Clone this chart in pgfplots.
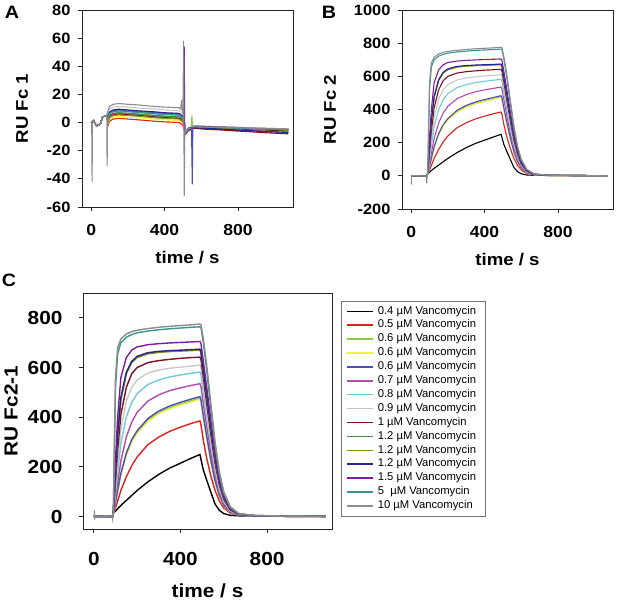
\documentclass[border=0pt]{standalone}
\usepackage{fontspec}
\setmainfont{Liberation Sans}[BoldFeatures={FakeStretch=1.1}]
\usepackage{pgfplots}
\usepackage{pgfplotstable}
\pgfplotsset{compat=1.18}

\definecolor{col1}{HTML}{000000}
\definecolor{col2}{HTML}{E0201A}
\definecolor{col3}{HTML}{8CC63F}
\definecolor{col4}{HTML}{F0F040}
\definecolor{col5}{HTML}{4A50B8}
\definecolor{col6}{HTML}{B04CB0}
\definecolor{col7}{HTML}{70C8DC}
\definecolor{col8}{HTML}{C8C8C8}
\definecolor{col9}{HTML}{7A1020}
\definecolor{col10}{HTML}{3E8E3E}
\definecolor{col11}{HTML}{8C8C1E}
\definecolor{col12}{HTML}{24248C}
\definecolor{col13}{HTML}{7A1E9E}
\definecolor{col14}{HTML}{3A9494}
\definecolor{col15}{HTML}{8C8C8C}

% Panel A (Fc1 reference)
\pgfplotstableread{
t c1 c2 c3 c4 c5 c6 c7 c8 c9 c10 c11 c12 c13 c14 c15
0 0 0 0 0 0 0 0 0 0 0 0 0 0 0 0
12 1.5 1.5 1.5 1.5 1.5 1.5 1.5 1.5 1.5 1.5 1.5 1.5 1.5 1.5 1.5
30 -2.5 -2.5 -2.5 -2.5 -2.5 -2.5 -2.5 -2.5 -2.5 -2.5 -2.5 -2.5 -2.5 -2.5 -2.5
50 -1 -1 -1 -1 -1 -1 -1 -1 -1 -1 -1 -1 -1 -1 -1
62 4 4 4 4 4 4 4 4 4 4 4 4 4 4 4
84 5 5 5 5 5 5 5 5 5 5 5 5 5 5 5
92 1 -2 1.5 -0.5 4 2 3 6.5 1 2 0.5 4.5 3.5 3.5 8.5
100 4 1 4.5 2.5 7 5 6 9.5 4 5 3.5 7.5 6.5 6.5 11.5
120 5.5 2.5 6 4 8.5 6.5 7.5 11 5.5 6.5 5 9 8 8 13
150 6 3 6.5 4.5 9 7 8 11.5 6 7 5.5 9.5 8.5 8.5 13.5
200 5.5 2.5 6 4 8.5 6.5 7.5 11 5.5 6.5 5 9 8 8 13
250 5.2 2 5.6 3.4 8.2 6 7.1 10.4 5 6.1 4.6 8.4 7.6 7.4 12.6
300 4.5 1.5 5 3 7.5 5.5 6.5 10 4.5 5.5 4 8 7 7 12
350 4.1 0.9 4.6 2.4 7.1 4.9 6.1 9.6 3.9 5.1 3.4 7.6 6.4 6.6 11.4
400 3.5 0.5 4 2 6.5 4.5 5.5 9 3.5 4.5 3 7 6 6 11
440 3.3 0.3 3.7 1.8 6.3 4.2 5.2 8.8 3.2 4.2 2.8 6.8 5.8 5.7 10.8
480 3 0 3.5 1.5 6 4 5 8.5 3 4 2.5 6.5 5.5 5.5 10.5
500 1 -2 1.5 -0.5 4 2 3 6.5 1 2 0.5 4.5 3.5 3.5 8.5
515 -7 -8 -7 -7 -6 -7 -7 -6 -8 -7 -7 -7.5 -6.5 -7 -7
530 -4.5 -5.5 -4.5 -4.5 -4 -4.5 -4.5 -4 -5.5 -4.5 -4.5 -5 -4 -4.5 -4.5
560 -3 -4 -3 -3 -2.5 -3 -3 -2.5 -4 -3 -3 -3.5 -2.5 -3 -3
630 -3.6 -4.4 -3.2 -3.4 -2.7 -3.3 -3.2 -2.8 -4.8 -3.3 -3.5 -4.1 -2.9 -3.3 -3.3
700 -3.9 -4.9 -3.6 -3.6 -3.1 -3.6 -3.6 -3.1 -5.2 -3.6 -3.75 -4.55 -3.25 -3.6 -3.45
780 -4.2 -5.4 -3.8 -4 -3.3 -3.9 -3.8 -3.4 -5.9 -3.9 -4.2 -5.1 -3.5 -3.9 -3.6
850 -4.8 -5.8 -4.2 -4.2 -3.7 -4.2 -4.2 -3.7 -6.4 -4.2 -4.5 -5.6 -4 -4.2 -3.9
960 -5.3 -6.5 -4.6 -4.7 -4.1 -4.7 -4.6 -4.2 -7.3 -4.6 -5 -6.4 -4.6 -4.6 -4.3
1075 -6 -7 -5 -5 -4.5 -5 -5 -4.5 -8 -5 -5.5 -7 -5 -5 -4.5
}\tabA

% Panels B and C (Fc2 and Fc2-1)
\pgfplotstableread{
t c1 c2 c3 c4 c5 c6 c7 c8 c9 c10 c11 c12 c13 c14 c15
0 0 0 0 0 0 0 0 0 0 0 0 0 0 0 0
30 1 1 1 1 1 1 1 1 1 1 1 1 1 1 1
60 0 0 0 0 0 0 0 0 0 0 0 0 0 0 0
86 0 0 0 0 0 0 0 0 0 0 0 0 0 0 0
90 15 15 15 15 15 15 15 15 15 15 15 15 15 15 15
95 17 22 29 28 30 35 45 55 70 88 85 90 110 270 300
100 22 35 53 52 55 70 90 110 140 175 170 180 230 520 560
110 32 62 102 100 105 135 180 220 270 325 320 330 400 655 680
125 45 105 170 167 175 225 295 350 410 475 470 480 560 700 715
150 65 160 250 246 255 320 400 465 520 578 575 580 640 722 735
175 85 205 304 300 310 380 460 520 575 622 620 625 670 733 745
200 105 240 340 336 345 420 495 550 600 642 640 645 683 740 750
250 140 290 388 384 395 465 532 578 620 657 655 660 692 747 757
300 170 320 418 414 425 490 550 590 628 663 661 665 696 752 762
350 195 343 438 434 445 507 562 597 633 666 664 668 699 756 766
400 215 360 453 449 460 518 570 602 637 668 666 670 701 759 769
450 235 375 466 462 473 528 577 606 640 670 668 672 703 762 772
490 250 385 476 472 483 535 582 610 642 672 670 674 705 764 775
495 230 370 463 460 470 522 570 598 630 660 658 662 695 760 772
505 190 310 404 400 410 460 505 530 565 595 593 597 630 705 720
520 150 240 325 322 330 370 410 435 465 495 493 497 530 600 620
540 100 165 226 224 230 260 290 310 335 360 358 362 390 440 460
560 50 105 142 141 145 165 185 198 215 235 233 237 255 285 300
580 25 62 83 82 85 96 108 116 128 140 139 141 150 170 180
600 12 35 46 45 47 53 60 64 70 78 77 79 85 95 100
630 5 14 18 17 18 20 23 25 27 30 30 31 33 38 40
670 3 5 6 6 6 6 7 8 8 9 9 9 10 11 12
750 2 2 2 2 2 3 3 3 3 3 3 3 4 4 4
900 1 1 1 1 1 1 2 2 2 2 2 2 2 2 2
1070 1 1 1 1 1 1 1 1 1 1 1 1 1 1 1
}\tabBC

\pgfplotsset{
  sprbase/.style={
    scale only axis,
    axis line style={line width=0.9bp, black!85},
    tick style={line width=0.8bp, black!85},
    tick align=outside,
    major tick length=4bp,
    xtick pos=bottom, ytick pos=left,
    xmin=-50, xmax=1100,
    xtick={0,400,800},
    /pgf/number format/assume math mode=true,
    /pgf/number format/1000 sep={},
    label style={font=\bfseries\fontsize{17}{17}\selectfont},
    yticklabel style={font=\bfseries\fontsize{15}{15}\selectfont, xshift=-4bp},
    xticklabel style={font=\bfseries\fontsize{16}{16}\selectfont, yshift=-10bp},
    every axis plot/.append style={line width=1.1bp},
  },
}

\begin{document}
\begin{tikzpicture}
\useasboundingbox (0bp,0bp) rectangle (617bp,601bp);

% ---------- A ----------
\begin{axis}[sprbase,
  at={(82bp,394bp)}, anchor=south west,
  width=211bp, height=197bp,
  ymin=-60, ymax=80, ytick={-60,-40,-20,0,20,40,60,80},
  xlabel={time / s}, ylabel={RU Fc 1},
  xlabel style={at={(axis description cs:0.5,-0.259)}, anchor=center},
  ylabel style={at={(axis description cs:-0.284,0.5)}, anchor=center},
]
\pgfplotsinvokeforeach{1,...,15}{\addplot[col#1] table[x=t,y=c#1]{\tabA};}
\addplot[col15] coordinates {(3,0)(5,-42)(7,0)};
\addplot[col15] coordinates {(85,5)(87,-31)(89,3)};
\addplot[col15] coordinates {(488,10.5)(493,16)(497,9)};
\addplot[col13] coordinates {(503,6)(507,54)(510,-5)};
\addplot[col15] coordinates {(500,8)(504,58)(507,-52)(510,-8)(515,-7)};
\addplot[col5] coordinates {(547,-3)(551,-44)(554,-3)};
\addplot[col3] coordinates {(546,-3)(549,5)(552,-3)};
\end{axis}

% ---------- B ----------
\begin{axis}[sprbase,
  at={(402bp,392bp)}, anchor=south west,
  width=211bp, height=199bp,
  ymin=-200, ymax=1000, ytick={-200,0,200,400,600,800,1000},
  xlabel={time / s}, ylabel={RU Fc 2},
  xlabel style={at={(axis description cs:0.5,-0.256)}, anchor=center},
  ylabel style={at={(axis description cs:-0.341,0.5)}, anchor=center},
]
\pgfplotsinvokeforeach{1,...,15}{\addplot[col#1] table[x=t,y=c#1]{\tabBC};}
\addplot[col15] coordinates {(0,-50)(1,-50)(2,0)};
\addplot[col15] coordinates {(83,0)(85,-45)(87,0)(90,15)};
\end{axis}

% ---------- C ----------
\begin{axis}[sprbase,
  at={(83bp,72bp)}, anchor=south west,
  width=249bp, height=236bp,
  ymin=-50, ymax=900, ytick={0,200,400,600,800},
  xlabel={time / s}, ylabel={RU Fc2-1},
  label style={font=\bfseries\fontsize{19}{19}\selectfont},
  yticklabel style={font=\bfseries\fontsize{19}{19}\selectfont, xshift=-9bp},
  xticklabel style={font=\bfseries\fontsize{19}{19}\selectfont, yshift=-6bp},
  xlabel style={at={(axis description cs:0.5,-0.262)}, anchor=center},
  ylabel style={at={(axis description cs:-0.289,0.5)}, anchor=center},
  every axis plot/.append style={line width=1.4bp},
  legend cell align=left,
  legend image code/.code={\draw[#1, line width=1.5bp] (0bp,0bp) -- (26bp,0bp);},
  legend style={at={(axis description cs:1.036,0.966)}, anchor=north west,
    draw=black!55, line width=0.6bp,
    font=\fontsize{11.3}{11.3}\selectfont,
    inner xsep=5bp, inner ysep=3bp, row sep=0pt,
    nodes={inner xsep=4bp, inner ysep=1.7bp, text height=8bp, text depth=2.5bp}},
  legend entries={0.4 µM Vancomycin, 0.5 µM Vancomycin, 0.6 µM Vancomycin,
    0.6 µM Vancomycin, 0.6 µM Vancomycin, 0.7 µM Vancomycin, 0.8 µM Vancomycin,
    0.9 µM Vancomycin, 1 µM Vancomycin, 1.2 µM Vancomycin, 1.2 µM Vancomycin,
    1.2 µM Vancomycin, 1.5 µM Vancomycin, 5\ \ µM Vancomycin, 10 µM Vancomycin},
]
\pgfplotsinvokeforeach{1,...,15}{\addplot[col#1] table[x=t,y=c#1]{\tabBC};}
\addplot[col15, line width=1bp, forget plot] coordinates {(1,0)(3,25)(4,-12)(6,0)};
\addplot[col15, line width=1bp, forget plot] coordinates {(85,0)(87,-12)(89,5)};
\end{axis}

\node[font=\bfseries\fontsize{18}{18}\selectfont] at (12bp,589bp) {A};
\node[font=\bfseries\fontsize{18}{18}\selectfont] at (329bp,589bp) {B};
\node[font=\bfseries\fontsize{18}{18}\selectfont] at (9bp,321bp) {C};
\end{tikzpicture}
\end{document}
